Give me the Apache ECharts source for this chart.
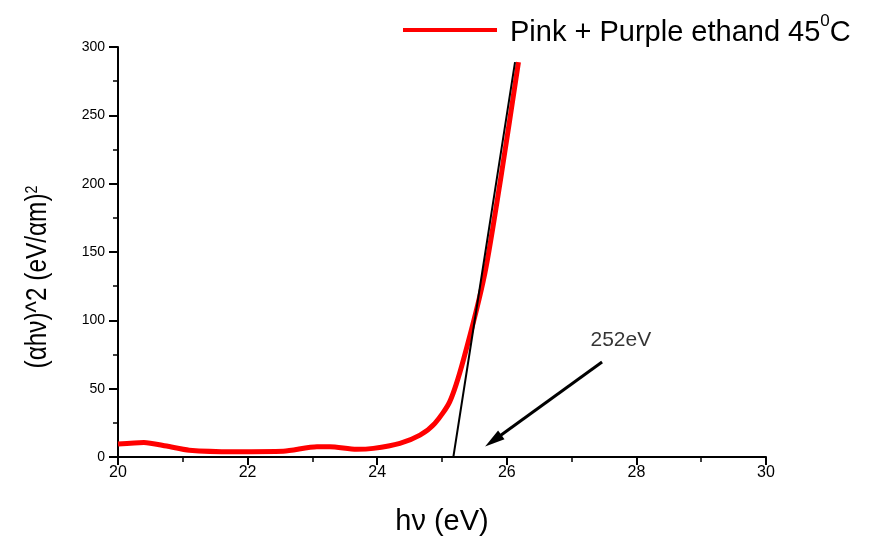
<!DOCTYPE html>
<html>
<head>
<meta charset="utf-8">
<script src="https://cdn.jsdelivr.net/npm/echarts@6/dist/echarts.min.js"></script>
<style>
  html, body {margin: 0; padding: 0; background: #fff;}
  #chart {width: 875px; height: 539px;}
</style>
</head>
<body>
<div id="chart"></div>
<script>
// photon energy (eV) and (αhν)^2
const energy = [2.000, 2.040, 2.075, 2.110, 2.180, 2.255, 2.307, 2.327, 2.368, 2.394, 2.435, 2.466, 2.489, 2.512, 2.533, 2.566, 2.592, 2.618];
const absorb = [9.5, 10.7, 8, 5, 3.9, 4.2, 7.5, 7.5, 5.6, 6.3, 10, 16, 24.6, 40.5, 71, 134, 208, 289];
// tangent extrapolated to the band gap
const tangentX = [2.5175, 2.6127];
const tangentY = [0, 289];
// arrow pointing at the intercept, and its label
const arrowFrom = [2.747, 69.5];
const arrowTo = [2.579, 11.9];
const gapLabel = '252eV';
const gapLabelPos = [2.776, 85.6];
const xTicks = {min: 2.0, max: 3.0, step: 0.2};
const yTicks = {min: 0, max: 300, step: 50};

const font = 'Liberation Sans, Arial, sans-serif';
const chart = echarts.init(document.getElementById('chart'));
chart.setOption({
  animation: false,
  backgroundColor: '#fff',
  textStyle: {fontFamily: font, color: '#000'},
  grid: {left: 118, right: 109, top: 47, bottom: 82, containLabel: false, outerBoundsMode: 'none'},
  legend: {
    data: ['sample'],
    left: 398,
    top: 8,
    icon: 'rect',
    itemWidth: 94,
    itemHeight: 4,
    formatter: () => '{a|Pink + Purple ethand 45}{s|0}{a|C}',
    textStyle: {
      padding: [0, 0, 0, 8],
      rich: {
        a: {fontSize: 29, fontFamily: font, color: '#000', verticalAlign: 'bottom', lineHeight: 34},
        s: {fontSize: 17, fontFamily: font, color: '#000', verticalAlign: 'top', lineHeight: 34}
      }
    }
  },
  xAxis: {
    type: 'value',
    min: xTicks.min,
    max: xTicks.max,
    interval: xTicks.step,
    name: 'hν (eV)',
    nameLocation: 'middle',
    nameGap: 50,
    nameTextStyle: {fontSize: 29, fontFamily: font, color: '#000'},
    axisLine: {lineStyle: {color: '#000', width: 2}},
    axisTick: {show: true, inside: false, length: 8, lineStyle: {color: '#000', width: 2}},
    minorTick: {show: true, splitNumber: 2, length: 5, lineStyle: {color: '#000', width: 1.5}},
    splitLine: {show: false},
    axisLabel: {
      fontSize: 16, color: '#000', margin: 8,
      formatter: (v) => v.toFixed(1).replace('.', '')
    }
  },
  yAxis: {
    type: 'value',
    min: yTicks.min,
    max: yTicks.max,
    interval: yTicks.step,
    axisLine: {show: true, lineStyle: {color: '#000', width: 2}},
    axisTick: {show: true, inside: false, length: 9, lineStyle: {color: '#000', width: 2}},
    minorTick: {show: true, splitNumber: 2, length: 5, lineStyle: {color: '#000', width: 1.5}},
    splitLine: {show: false},
    axisLabel: {fontSize: 14, color: '#000', margin: 13}
  },
  graphic: [{
    type: 'text',
    x: 38,
    y: 277,
    rotation: Math.PI / 2,
    scaleX: 0.84,
    style: {
      text: '(αhν)^2 (eV/αm){s|2}',
      font: '29px ' + font,
      fill: '#000',
      align: 'center',
      verticalAlign: 'middle',
      rich: {s: {fontSize: 17, fontFamily: font, verticalAlign: 'top'}}
    }
  }],
  series: [
    {
      name: 'sample',
      type: 'line',
      data: energy.map((x, i) => [x, absorb[i]]),
      showSymbol: false,
      smooth: 0.25,
      color: '#ff0000',
      lineStyle: {color: '#ff0000', width: 5},
      z: 2
    },
    {
      name: 'tangent',
      type: 'line',
      data: tangentX.map((x, i) => [x, tangentY[i]]),
      showSymbol: false,
      lineStyle: {color: '#000', width: 2},
      z: 3,
      markLine: {
        silent: true,
        symbol: ['none', 'triangle'],
        symbolSize: [11, 20],
        label: {show: false},
        lineStyle: {color: '#000', width: 3, type: 'solid'},
        data: [[{coord: arrowFrom}, {coord: arrowTo}]]
      }
    },
    {
      name: 'label',
      type: 'scatter',
      data: [gapLabelPos],
      symbolSize: 0,
      label: {
        show: true,
        position: 'inside',
        formatter: gapLabel,
        fontSize: 21,
        fontFamily: font,
        color: '#000'
      }
    }
  ]
});
</script>
</body>
</html>
